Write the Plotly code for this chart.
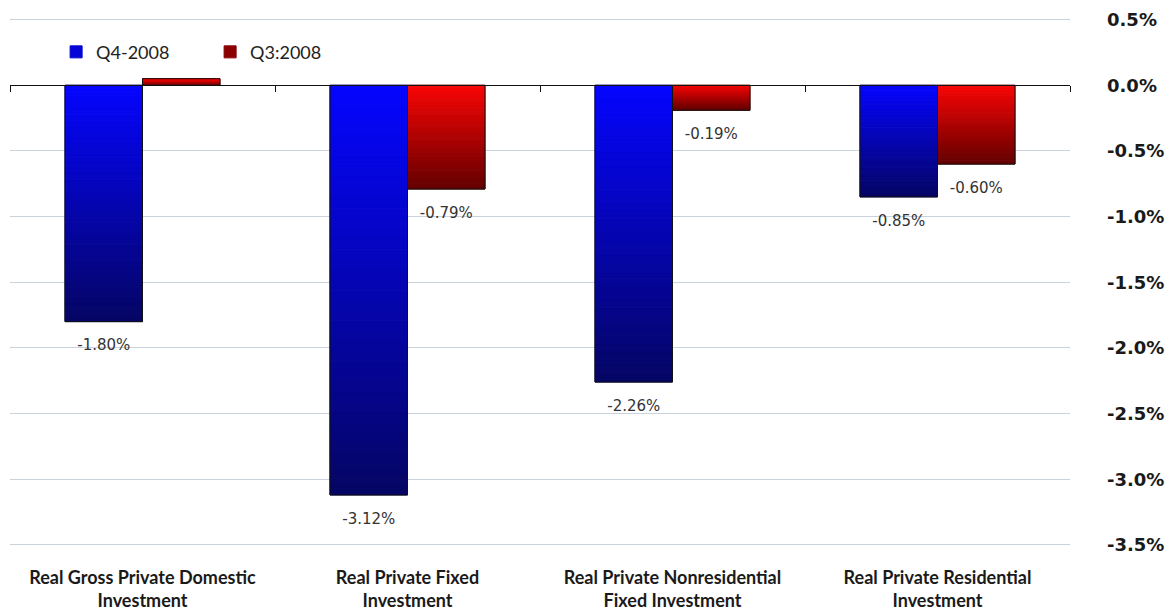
import plotly.graph_objects as go

categories = [
    "Real Gross Private Domestic<br>Investment",
    "Real Private Fixed<br>Investment",
    "Real Private Nonresidential<br>Fixed Investment",
    "Real Private Residential<br>Investment",
]
q4_2008 = [-1.80, -3.12, -2.26, -0.85]
q3_2008 = [0.05, -0.79, -0.19, -0.60]
series_names = ["Q4-2008", "Q3:2008"]
tick_vals = [0.5, 0.0, -0.5, -1.0, -1.5, -2.0, -2.5, -3.0, -3.5]
tick_text = ["0.5%", "0.0%", "-0.5%", "-1.0%", "-1.5%", "-2.0%", "-2.5%", "-3.0%", "-3.5%"]

Y_MIN, Y_MAX = -3.6, 0.52
N_SEG = 40
LABEL_PAD = 0.09  # extra gap (axis units) between bar end and its value label

# gradient endpoints (bright at top, dark at bottom)
grads = {
    "Q4-2008": ((5, 5, 255), (5, 5, 100)),
    "Q3:2008": ((250, 5, 5), (100, 0, 0)),
}


def mix(c1, c2, f):
    return "rgb(%d,%d,%d)" % tuple(round(a + (b - a) * f) for a, b in zip(c1, c2))


fig = go.Figure()

for name, vals in zip(series_names, [q4_2008, q3_2008]):
    top, bot = grads[name]
    for i in range(N_SEG):
        colors = []
        for v in vals:
            f = (i + 0.5) / N_SEG if v < 0 else (N_SEG - 1 - i + 0.5) / N_SEG
            colors.append(mix(top, bot, f))
        fig.add_trace(go.Bar(
            x=categories,
            y=[v / N_SEG for v in vals],
            base=[v * i / N_SEG for v in vals],
            offsetgroup=name,
            marker=dict(color=colors, line=dict(width=1, color=colors)),
            name=name,
            showlegend=(i == N_SEG // 4),
            legendrank=1 if name == "Q4-2008" else 2,
            hoverinfo="skip",
        ))
    # outline
    fig.add_trace(go.Bar(
        x=categories,
        y=vals,
        offsetgroup=name,
        marker=dict(color="rgba(0,0,0,0)", line=dict(color="#111111", width=1)),
        showlegend=False,
        name=name,
        hoverinfo="skip",
    ))
    # value labels (invisible carrier bar slightly longer than the real bar)
    fig.add_trace(go.Bar(
        x=categories,
        y=[v - LABEL_PAD if v < 0 else v for v in vals],
        offsetgroup=name,
        marker=dict(color="rgba(0,0,0,0)", line=dict(width=0)),
        text=[f"{v:.2f}%" if v < 0 else "" for v in vals],
        textposition="outside",
        textfont=dict(family="DejaVu Sans", size=15, color="#333333"),
        constraintext="none",
        cliponaxis=False,
        showlegend=False,
        name=name,
        hoverinfo="skip",
    ))

pos_zero = (0 - Y_MIN) / (Y_MAX - Y_MIN)

fig.update_layout(
    width=1175,
    height=616,
    barmode="group",
    bargap=0.415,
    bargroupgap=0,
    plot_bgcolor="white",
    paper_bgcolor="white",
    margin=dict(l=10, r=105, t=17, b=58),
    font=dict(family="Lato", color="#1a1a1a"),
    legend=dict(
        orientation="h",
        x=0.0435, y=0.935, xanchor="left", yanchor="middle",
        font=dict(family="Lato", size=18, color="#222222"),
        bgcolor="rgba(0,0,0,0)",
        traceorder="normal",
        entrywidth=109,
    ),
    xaxis=dict(
        type="category",
        showgrid=False,
        showline=False,
        ticks="",
        automargin=False,
        ticklabelstandoff=7,
        tickfont=dict(family="Lato", size=18, color="#1a1a1a", weight="bold"),
    ),
    xaxis2=dict(
        overlaying="x",
        anchor="free",
        position=pos_zero,
        side="bottom",
        range=[-0.5, 3.5],
        showline=True,
        linecolor="#111111",
        linewidth=1,
        ticks="outside",
        ticklen=6,
        tickcolor="#111111",
        tickmode="array",
        tickvals=[k - 0.5 for k in range(len(categories) + 1)],
        showticklabels=False,
        showgrid=False,
        zeroline=False,
        automargin=False,
    ),
    yaxis=dict(
        side="right",
        range=[Y_MIN, Y_MAX],
        tickmode="array",
        tickvals=tick_vals,
        ticktext=tick_text,
        showgrid=True,
        gridcolor="#c9d3de",
        gridwidth=1,
        zeroline=False,
        showline=False,
        ticks="",
        automargin=False,
        ticklabelstandoff=36,
        tickfont=dict(family="DejaVu Sans", size=18, color="#1a1a1a", weight="bold"),
    ),
)

# invisible trace to activate the zero-line axis (xaxis2)
fig.add_trace(go.Scatter(x=[0], y=[0], xaxis="x2", mode="markers",
                         marker=dict(opacity=0), showlegend=False, hoverinfo="skip"))

fig.write_html("out.html")
